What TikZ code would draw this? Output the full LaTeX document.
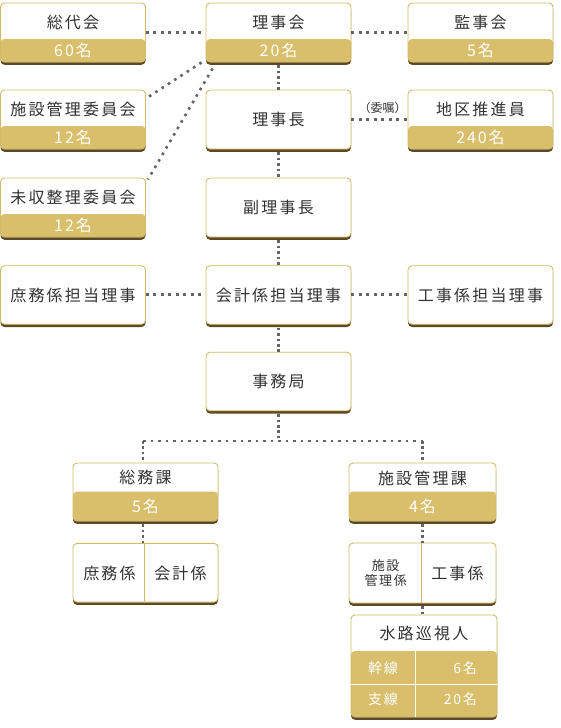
\documentclass[tikz,border=0pt]{standalone}
\usepackage{fontspec}
\setmainfont{Noto Sans CJK JP}
\newfontfamily\jpt[LetterSpace=14]{Noto Sans CJK JP}
\newfontfamily\jpn[LetterSpace=12]{Noto Sans CJK JP}
\usetikzlibrary{shadows}
\definecolor{goldfill}{RGB}{217,190,108}
\definecolor{goldline}{RGB}{212,186,102}
\definecolor{shadowc}{RGB}{92,74,38}
\definecolor{dotc}{RGB}{100,100,100}
\definecolor{txt}{RGB}{50,50,50}
\tikzset{
  orgbox/.style={draw=goldline, line width=0.9pt, fill=white, rounded corners=4pt,
    inner sep=0pt, minimum width=145pt, minimum height=59pt,
    drop shadow={shadow xshift=0pt, shadow yshift=-2.8pt, fill=shadowc, opacity=1}},
  gband/.style={path picture={\fill[goldfill] ([yshift=#1]path picture bounding box.south west) rectangle (path picture bounding box.south east);}},
  ttl/.style={text=txt, inner sep=0pt, font=\jpt\fontsize{16}{18}\selectfont},
  num/.style={text=white, inner sep=0pt, font=\jpn\fontsize{16}{18}\selectfont},
  small/.style={text=txt, inner sep=0pt, font=\jpn\fontsize{13}{15.7}\selectfont, align=center},
  cellw/.style={text=white, inner sep=0pt, font=\jpn\fontsize{14}{16}\selectfont},
  note/.style={text=txt, inner sep=0pt, font=\fontsize{12}{14}\selectfont},
  hconn/.style={draw=dotc, line width=2.6pt, dash pattern=on 2.6pt off 4.9pt},
  vconn/.style={draw=dotc, line width=2.6pt, dash pattern=on 2.6pt off 2.8pt},
  divline/.style={draw=goldline, line width=1pt},
  wline/.style={draw=white, line width=1pt},
}
\begin{document}
\begin{tikzpicture}[x=1pt,y=-1pt]
\useasboundingbox (0,0) rectangle (560,728);

% ---- row 1
\node[orgbox, gband=23pt] (sodai) at (73,32.5) {};
\node[ttl] (sodai-t) at (73,22.5) {総代会};
\node[num] (sodai-n) at (73,50.5) {60名};
\node[orgbox, gband=23pt] (rijikai) at (278.5,32.5) {};
\node[ttl] (rijikai-t) at (278.5,22.5) {理事会};
\node[num] (rijikai-n) at (278.5,50.5) {20名};
\node[orgbox, gband=23pt] (kanjikai) at (480.5,32.5) {};
\node[ttl] (kanjikai-t) at (480.5,22.5) {監事会};
\node[num] (kanjikai-n) at (480.5,50.5) {5名};

% ---- row 2
\node[orgbox, gband=23pt] (shisetsuI) at (73,119.5) {};
\node[ttl] (shisetsuI-t) at (73,109.5) {施設管理委員会};
\node[num] (shisetsuI-n) at (73,137.5) {12名};
\node[orgbox] (rijicho) at (278.5,119.5) {};
\node[ttl] (rijicho-t) at (278.5,119.5) {理事長};
\node[orgbox, gband=23pt] (chiku) at (480.5,119.5) {};
\node[ttl] (chiku-t) at (480.5,109.5) {地区推進員};
\node[num] (chiku-n) at (480.5,137.5) {240名};

% ---- row 3
\node[orgbox, gband=23pt] (mishu) at (73,207.5) {};
\node[ttl] (mishu-t) at (73,197.5) {未収整理委員会};
\node[num] (mishu-n) at (73,225.5) {12名};
\node[orgbox] (fukuriji) at (278.5,207.5) {};
\node[ttl] (fukuriji-t) at (278.5,207) {副理事長};

% ---- row 4
\node[orgbox, minimum height=58.5pt] (shomuT) at (73,295) {};
\node[ttl] (shomuT-t) at (73,295) {庶務係担当理事};
\node[orgbox, minimum height=58.5pt] (kaikeiT) at (278.5,295) {};
\node[ttl] (kaikeiT-t) at (278.5,295) {会計係担当理事};
\node[orgbox, minimum height=58.5pt] (kojiT) at (480.5,295) {};
\node[ttl] (kojiT-t) at (480.5,295) {工事係担当理事};

% ---- row 5
\node[orgbox, minimum height=58.5pt] (jimukyoku) at (278.5,381.5) {};
\node[ttl] (jimukyoku-t) at (278.5,381.5) {事務局};

% ---- sections
\node[orgbox, gband=29.5pt, minimum height=58pt] (somuka) at (145.5,492) {};
\node[ttl] (somuka-t) at (145.5,477.5) {総務課};
\node[num] (somuka-n) at (145.5,506) {5名};
\node[orgbox, gband=29.5pt, minimum height=58pt, minimum width=147pt] (shisetsuka) at (422.5,492) {};
\node[ttl] (shisetsuka-t) at (422.5,478) {施設管理課};
\node[num] (shisetsuka-n) at (422.5,506) {4名};

% ---- split boxes
\node[orgbox, minimum height=58.7pt] (somusplit) at (145.5,572.7) {};
\draw[divline] ([xshift=-1.2pt]somusplit.north) -- ([xshift=-1.2pt]somusplit.south);
\node[ttl] (shomu-t) at (109.5,573) {庶務係};
\node[ttl] (kaikei-t) at (180.5,573) {会計係};

\node[orgbox, minimum height=60pt, minimum width=147pt] (shisetsusplit) at (422.5,573) {};
\draw[divline] ([xshift=-0.8pt]shisetsusplit.north) -- ([xshift=-0.8pt]shisetsusplit.south);
\node[small] (kanri-t) at (385.7,573) {施設\\管理係};
\node[ttl] (koji-t) at (457.5,573.3) {工事係};

% ---- 水路巡視人
\node[orgbox, gband=66pt, minimum height=102pt, minimum width=146pt] (suiro) at (424,666) {};
\draw[wline] ([yshift=33pt]suiro.south west) -- ([yshift=33pt]suiro.south east);
\draw[wline] ([xshift=-8.3pt,yshift=66pt]suiro.south) -- ([xshift=-8.3pt]suiro.south);
\node[ttl] (suiro-t) at (424,633.3) {水路巡視人};
\node[cellw] (kansen) at (383,667.7) {幹線};
\node[cellw] (shisen) at (383,699.3) {支線};
\node[cellw, anchor=east] (kansen-n) at (477,667.7) {6名};
\node[cellw, anchor=east] (shisen-n) at (477,699.3) {20名};

% ---- connectors
\draw[hconn] (sodai.east) -- (rijikai.west);
\draw[hconn] (rijikai.east) -- (kanjikai.west);
\draw[hconn] (rijicho.east) -- (chiku.west);
\node[note] (ishoku) at (382.5,108.3) {（委嘱）};
\draw[hconn] ([xshift=-4pt]rijikai.south west) -- ([xshift=3pt,yshift=-7pt]shisetsuI.north east);
\draw[hconn] ([xshift=7pt,yshift=-6pt]rijikai.south west) -- ([xshift=2pt,yshift=-2pt]mishu.north east);
\draw[vconn] ([yshift=-3pt]rijikai.south) -- (rijicho.north);
\draw[vconn] ([yshift=-3pt]rijicho.south) -- (fukuriji.north);
\draw[vconn] ([yshift=-3pt]fukuriji.south) -- (kaikeiT.north);
\draw[hconn] ([yshift=0.5pt]shomuT.east) -- ([yshift=0.5pt]kaikeiT.west);
\draw[hconn] ([yshift=0.5pt]kaikeiT.east) -- ([yshift=0.5pt]kojiT.west);
\draw[vconn] ([yshift=-3pt]kaikeiT.south) -- (jimukyoku.north);
\coordinate (jL) at (143,441);
\coordinate (jR) at (422.7,441);
\coordinate (jM) at (278.5,441);
\draw[vconn] ([yshift=-3pt]jimukyoku.south) -- (jM);
\draw[hconn] (jL) -- (jR);
\draw[vconn] (jL) -- (jL |- somuka.north);
\draw[vconn] (jR) -- (jR |- shisetsuka.north);
\draw[vconn] ([yshift=-3pt]somuka.south -| jL) -- (somusplit.north -| jL);
\draw[vconn] ([yshift=-3pt]shisetsuka.south -| jR) -- (shisetsusplit.north -| jR);
\draw[vconn] ([yshift=-3pt]shisetsusplit.south -| jR) -- (suiro.north -| jR);
\end{tikzpicture}
\end{document}
